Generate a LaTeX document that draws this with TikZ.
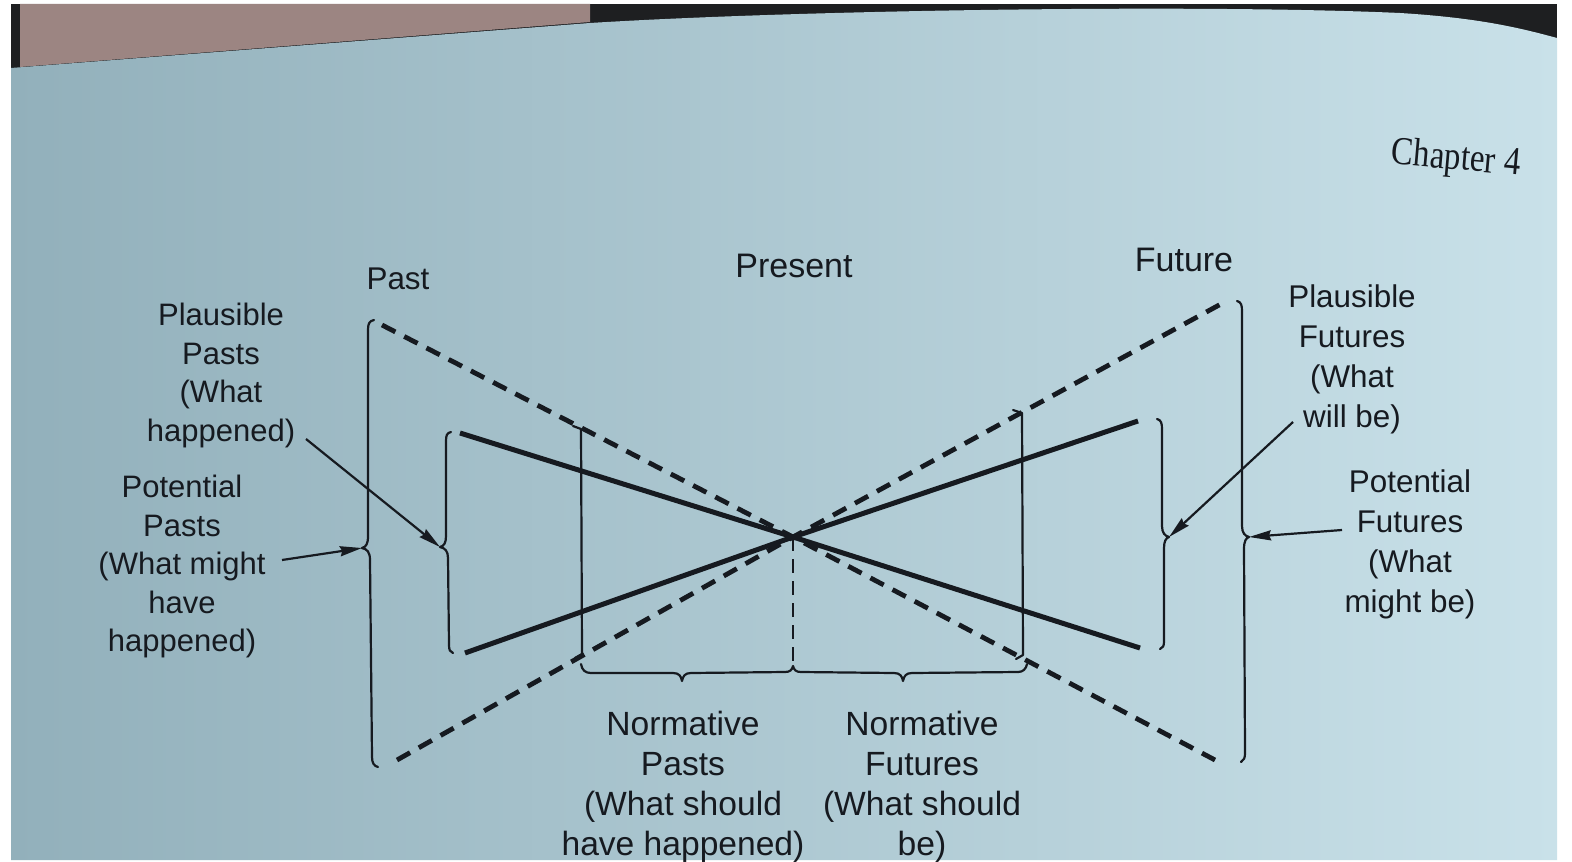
\documentclass[tikz,border=0pt]{standalone}
\usepackage{fontspec}
\setmainfont{Liberation Sans}
\newfontfamily\chapserif{Liberation Serif}
\usetikzlibrary{arrows.meta}
\definecolor{ink}{RGB}{22,26,32}
\definecolor{pageL}{RGB}{146,176,187}
\definecolor{pageR}{RGB}{201,225,233}
\definecolor{darkbg}{RGB}{30,31,33}
\definecolor{pinkbg}{RGB}{156,133,130}
\tikzset{
  thinln/.style={draw=ink,line width=1.1pt,line cap=round,line join=round},
  heavyln/.style={draw=ink,line width=2.5pt,line join=round},
  dashln/.style={draw=ink,line width=2.4pt,dash pattern=on 7.5pt off 5pt},
  vdashln/.style={draw=ink,line width=1.1pt,dash pattern=on 7pt off 4pt},
  arr/.style={draw=ink,line width=1.1pt,-{Stealth[length=11pt,width=5pt,inset=1pt]}},
  labL/.style={align=center,inner sep=0pt,anchor=north,text=ink,font=\fontsize{15.5}{19.2}\selectfont},
  labR/.style={align=center,inner sep=0pt,anchor=north,text=ink,font=\fontsize{15.7}{20.1}\selectfont},
  labB/.style={align=center,inner sep=0pt,anchor=north,text=ink,font=\fontsize{16.8}{20}\selectfont},
  headS/.style={inner sep=0pt,anchor=north,text=ink,font=\fontsize{15.7}{19}\selectfont},
  headL/.style={inner sep=0pt,anchor=north,text=ink,font=\fontsize{17}{20}\selectfont},
  chap/.style={inner sep=0pt,text=ink,font=\chapserif\fontsize{16.5}{20}\selectfont,rotate=-5,yscale=1.2}
}
\begin{document}
\begin{tikzpicture}[x=0.5pt,y=-0.5pt]
\useasboundingbox (0,0) rectangle (1572,861);
% photographed page background
\fill[white] (0,0) rectangle (1572,861);
\fill[darkbg] (11,4) rectangle (1557,860);
\fill[pinkbg] (20,4) -- (590,4) -- (590,22) -- (20,67) -- cycle;
\shade[left color=pageL,right color=pageR]
  (11,68) -- (590,23) .. controls (800,10) and (1200,4) .. (1400,13)
  .. controls (1480,18) and (1520,28) .. (1557,38)
  -- (1557,860) -- (11,860) -- cycle;

\node[chap] (ch) at (1456,160) {Chapter 4};

% headings
\node[headS] (past) at (398,267) {Past};
\node[headL] (present) at (794,254) {Present};
\node[headL] (future) at (1184,248) {Future};

% centre
\coordinate (X) at (793,537);

% dashed cone
\draw[dashln] (382,325) -- (X) -- (1215,760);
\draw[dashln] (397,760) -- (X) -- (1221,304);
% solid cone
\draw[heavyln] (460,433) -- (X) -- (1140,648);
\draw[heavyln] (465,653) -- (X) -- (1138,421);
% present divider
\coordinate (Xb) at (793,663);
\draw[vdashln] (X) -- (Xb);

% normative verticals
\draw[thinln] (573,426) -- (581,429) -- (582,654) -- (575,658);
\draw[thinln] (1013,410) -- (1022,413) -- (1023,655) -- (1016,659);

% normative horizontal brace
\coordinate (tipNP) at (682,681);
\coordinate (tipNF) at (903,681);
\draw[thinln] (581,664) .. controls (582,670) and (585,673) .. (591,673) -- (673,673)
  .. controls (679,673) and (681,676) .. (tipNP)
  .. controls (683,676) and (685,673) .. (691,673) -- (785,672)
  .. controls (790,672) and (792,670) .. (793,666)
  .. controls (794,670) and (796,672) .. (801,672) -- (894,673)
  .. controls (900,673) and (902,676) .. (tipNF)
  .. controls (904,676) and (906,673) .. (912,673) -- (1018,672)
  .. controls (1023,672) and (1026,669) .. (1027,664);

% left outer brace
\coordinate (tipLO) at (362,548);
\draw[thinln] (374,320) .. controls (369,321) and (368,324) .. (368,330) -- (368,536)
  .. controls (368,544) and (366,547) .. (tipLO)
  .. controls (367,549) and (370,552) .. (370,560) -- (372,757)
  .. controls (372,763) and (374,766) .. (378,767);
% left inner brace
\coordinate (tipLI) at (440,547);
\draw[thinln] (451,432) .. controls (447,433) and (446,435) .. (446,441) -- (446,536)
  .. controls (446,543) and (444,546) .. (tipLI)
  .. controls (445,548) and (448,551) .. (448,558) -- (449,645)
  .. controls (449,650) and (450,652) .. (453,653);
% right inner brace
\coordinate (tipRI) at (1169,537);
\draw[thinln] (1157,419) .. controls (1161,420) and (1162,423) .. (1162,429) -- (1162,526)
  .. controls (1162,533) and (1165,536) .. (tipRI)
  .. controls (1166,538) and (1164,541) .. (1164,548) -- (1164,641)
  .. controls (1164,646) and (1163,648) .. (1160,649);
% right outer brace
\coordinate (tipRO) at (1249,537);
\draw[thinln] (1237,301) .. controls (1241,302) and (1242,305) .. (1242,311) -- (1242,526)
  .. controls (1242,533) and (1245,536) .. (tipRO)
  .. controls (1246,538) and (1244,541) .. (1244,549) -- (1245,753)
  .. controls (1245,758) and (1244,760) .. (1241,762);

% labels
\node[labL] (pp) at (221,303) {Plausible\\Pasts\\(What\\happened)};
\node[labL] (potp) at (182,475) {Potential\\Pasts\\(What might\\have\\happened)};
\node[labR] (pf) at (1352,284) {Plausible\\Futures\\(What\\will be)};
\node[labR] (potf) at (1410,469) {Potential\\Futures\\(What\\might be)};
\node[labB] (np) at (683,711) {Normative\\Pasts\\(What should\\have happened)};
\node[labB] (nf) at (922,711) {Normative\\Futures\\(What should\\be)};

% arrows
\coordinate (aPP) at (306,439);
\coordinate (aPotP) at (282,560);
\coordinate (aPF) at (1293,422);
\coordinate (aPotF) at (1342,530);
\draw[arr] (aPP) -- (tipLI);
\draw[arr] (aPotP) -- (tipLO);
\draw[arr] (aPF) -- (tipRI);
\draw[arr] (aPotF) -- (tipRO);
\end{tikzpicture}
\end{document}
